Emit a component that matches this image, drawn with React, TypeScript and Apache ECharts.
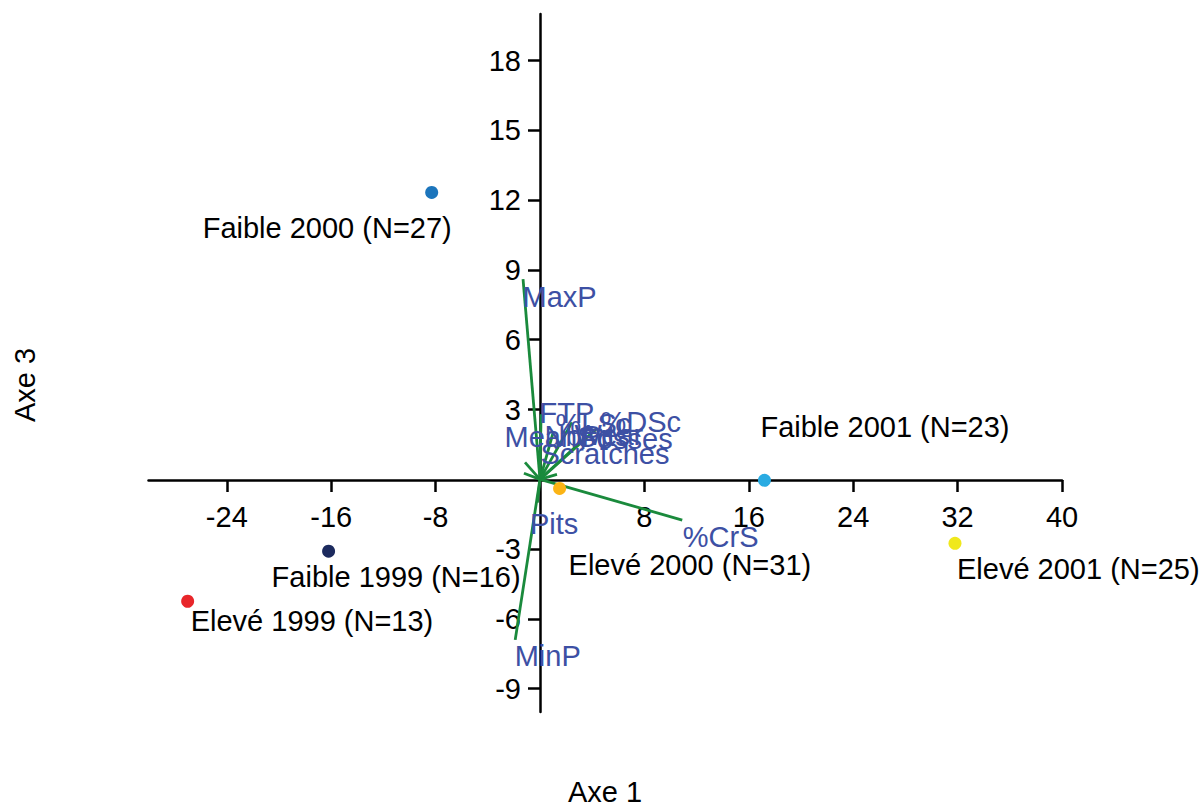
import React, { useEffect, useRef } from 'react';
import * as echarts from 'echarts';

// Group centroids (Axe 1, Axe 3)
const groupNames = ['Faible 2000 (N=27)', 'Faible 1999 (N=16)', 'Elevé 1999 (N=13)', 'Elevé 2000 (N=31)', 'Faible 2001 (N=23)', 'Elevé 2001 (N=25)'];
const groupAxe1 = [-8.3, -16.2, -27.0, 1.5, 17.2, 31.8];
const groupAxe3 = [12.33, -3.09, -5.24, -0.39, -0.04, -2.75];

// Variable vectors (Axe 1, Axe 3)
const varNames = ['MaxP', 'MinP', '%CrS', 'Pits', 'FTP', '%DSc', 'MeanSc', 'Fosses', 'Scratches', '%LSc', 'NbPits', 'Wear'];
const varAxe1 = [-1.3, -1.9, 10.9, -0.2, 0.08, 4.37, -1.15, 3.5, 1.3, 1.0, -1.23, 2.45];
const varAxe3 = [8.6, -6.9, -1.75, -1.0, 2.8, 2.19, 0.73, 1.8, 0.21, 2.0, 0.26, 2.45];

// Tick labels
const xTicks = [-24, -16, -8, 8, 16, 24, 32, 40];
const yTicks = [-9, -6, -3, 3, 6, 9, 12, 15, 18];

// Styling / layout (not data)
const groupColors = ['#1c75bc', '#1c2a5e', '#e8262a', '#fbb415', '#2aabe2', '#f0e81c'];
const groupLabelPos: [number, number][] = [
  [-222.5, 42.5],
  [-50.5, 32.5],
  [9.5, 26.5],
  [15.5, 83.5],
  [2.5, -46.5],
  [8.5, 32.5],
];
const varLabelPos: [number, number][] = [
  [0, 18],
  [0, 17],
  [1, 17],
  [-7, 22],
  [-1, -1],
  [4, -6],
  [-20, -25],
  [-6, 2],
  [-16, -20],
  [3, -8],
  [21, -37],
  [3, 13],
];

const FONT = "'Liberation Sans', Arial, Helvetica, sans-serif";
const GRID = { left: 148.5, right: 142, top: 14, bottom: 96 };

export default function App() {
  const ref = useRef<HTMLDivElement>(null);
  useEffect(() => {
    const chart = echarts.init(ref.current!, null, { renderer: 'svg' });
    chart.setOption({
      animation: false,
      grid: GRID,
      xAxis: {
        type: 'value',
        min: -30,
        max: 40,
        position: 'bottom',
        offset: -232,
        splitLine: { show: false },
        axisLine: { show: true, onZero: false, lineStyle: { color: '#000', width: 2.5 } },
        axisTick: { show: true, length: 12, lineStyle: { color: '#000', width: 2.5 }, customValues: xTicks },
        axisLabel: { customValues: xTicks, color: '#000', fontSize: 29, fontFamily: FONT, margin: 22 },
      },
      yAxis: {
        type: 'value',
        min: -10,
        max: 20,
        position: 'left',
        offset: -391.5,
        splitLine: { show: false },
        axisLine: { show: true, onZero: false, lineStyle: { color: '#000', width: 2.5 } },
        axisTick: { show: true, length: 12, lineStyle: { color: '#000', width: 2.5 }, customValues: yTicks },
        axisLabel: { customValues: yTicks, color: '#000', fontSize: 29, fontFamily: FONT, margin: 19 },
      },
      graphic: [
        {
          type: 'text',
          x: 605,
          y: 792,
          style: { text: 'Axe 1', fill: '#000', font: `29px ${FONT}`, textAlign: 'center', textVerticalAlign: 'middle' },
        },
        {
          type: 'text',
          x: 25,
          y: 385,
          rotation: Math.PI / 2,
          style: { text: 'Axe 3', fill: '#000', font: `29px ${FONT}`, textAlign: 'center', textVerticalAlign: 'middle' },
        },
      ],
      series: [
        {
          type: 'lines',
          coordinateSystem: 'cartesian2d',
          silent: true,
          z: 2,
          lineStyle: { color: '#1a8a3c', width: 2.8, opacity: 1, curveness: 0 },
          data: varNames.map((n, i) => ({ name: n, coords: [[0, 0], [varAxe1[i], varAxe3[i]]] })),
        },
        {
          type: 'scatter',
          silent: true,
          z: 3,
          symbolSize: 1,
          itemStyle: { color: 'transparent', opacity: 1 },
          data: varNames.map((n, i) => ({
            name: n,
            value: [varAxe1[i], varAxe3[i]],
            label: {
              show: true,
              formatter: '{b}',
              position: varLabelPos[i],
              align: 'left',
              verticalAlign: 'middle',
              color: '#3d50a4',
              fontSize: 29,
              fontFamily: FONT,
              opacity: 1,
            },
          })),
        },
        {
          type: 'scatter',
          silent: true,
          z: 4,
          symbolSize: 13,
          itemStyle: { opacity: 1 },
          data: groupNames.map((n, i) => ({
            name: n,
            value: [groupAxe1[i], groupAxe3[i]],
            itemStyle: { color: groupColors[i], opacity: 1 },
            label: {
              show: true,
              formatter: '{b}',
              position: groupLabelPos[i],
              align: 'left',
              verticalAlign: 'middle',
              color: '#000',
              fontSize: 29,
              fontFamily: FONT,
              opacity: 1,
            },
          })),
        },
      ],
    });
    return () => chart.dispose();
  }, []);
  return <div ref={ref} style={{ position: 'absolute', left: 0, top: 0, width: 1204, height: 808 }} />;
}
